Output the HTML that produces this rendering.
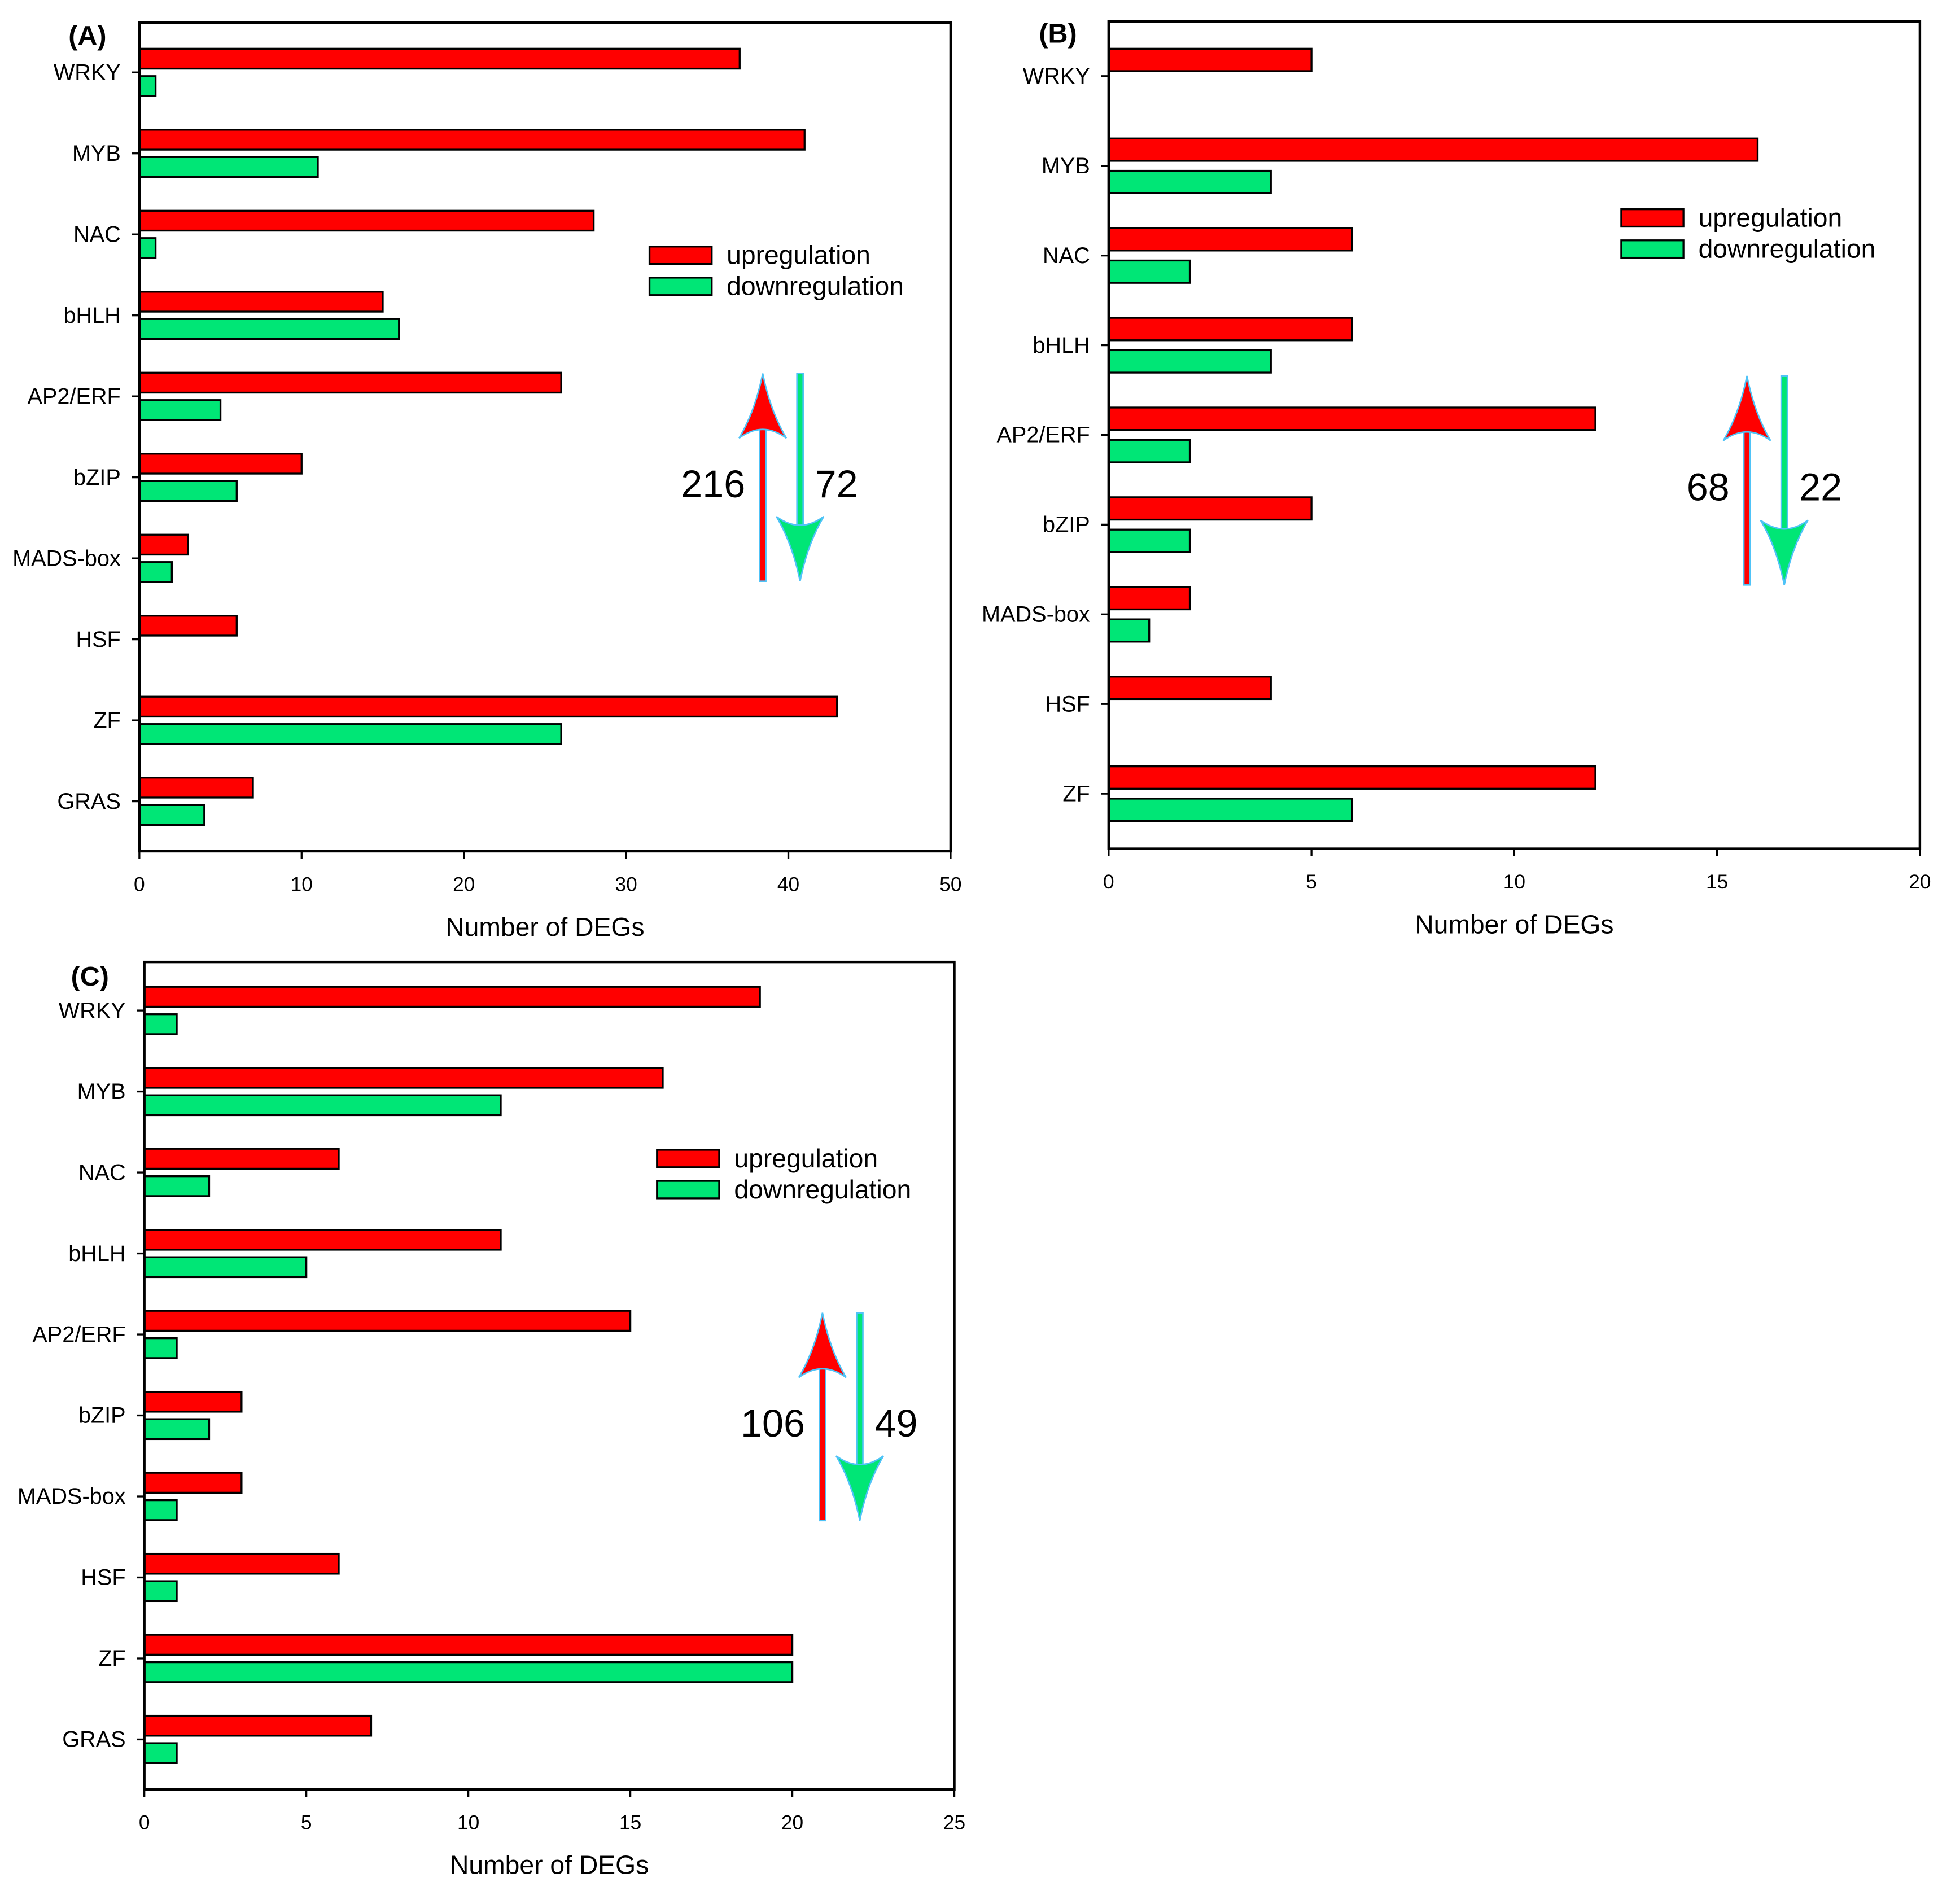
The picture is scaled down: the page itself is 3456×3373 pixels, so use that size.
<!DOCTYPE html>
<html><head><meta charset="utf-8"><style>
html,body{margin:0;padding:0;background:#fff;}
svg{display:block;font-family:"Liberation Sans",Arial,sans-serif;}
</style></head><body>
<svg id="fig" width="3456" height="3373" viewBox="0 0 1568 1530" xmlns="http://www.w3.org/2000/svg"></svg>
<script>
const catsAC = ["WRKY","MYB","NAC","bHLH","AP2/ERF","bZIP","MADS-box","HSF","ZF","GRAS"];
const catsB = ["WRKY","MYB","NAC","bHLH","AP2/ERF","bZIP","MADS-box","HSF","ZF"];
const upA = [37,41,28,15,26,10,3,6,43,7];
const downA = [1,11,1,16,5,6,2,0,26,4];
const upB = [5,16,6,6,12,5,2,4,12];
const downB = [0,4,2,4,2,2,1,0,6];
const upC = [19,16,6,11,15,3,3,6,20,7];
const downC = [1,11,2,5,1,2,1,1,20,1];
const ticksA = [0,10,20,30,40,50];
const ticksB = [0,5,10,15,20];
const ticksC = [0,5,10,15,20,25];
const totalsA = ["216","72"], totalsB = ["68","22"], totalsC = ["106","49"];

const NS="http://www.w3.org/2000/svg";
const svg=document.getElementById('fig');
function mk(tag,attrs,parent,text){const e=document.createElementNS(NS,tag);for(const k in attrs)e.setAttribute(k,attrs[k]);if(text!==undefined)e.textContent=text;(parent||svg).appendChild(e);return e;}

function panel(cfg){
  const g=mk('g',{});
  
  
  const {x0,x1,y0,y1,max,cats,up,down,ticks,first,step,off,bh}=cfg;
  const sx=v=>x0+(x1-x0)*v/max;
  const cy=i=>first+step*i;
  cats.forEach((c,i)=>{
    const y=cy(i);
    const t=mk('line',{x1:x0-6,x2:x0,y1:y,y2:y,stroke:'#000','stroke-width':1.5},g);
    
    
    const l=mk('text',{x:x0-15,y:y+6,'text-anchor':'end','font-size':18},g,c);
    
    
    if(up[i]>0){const r=mk('rect',{x:x0,y:y-off-bh/2,width:sx(up[i])-x0,height:bh,fill:'#ff0000',stroke:'#000','stroke-width':1.5},g);
      
      }
    if(down[i]>0){const r=mk('rect',{x:x0,y:y+off-bh/2,width:sx(down[i])-x0,height:bh,fill:'#00e676',stroke:'#000','stroke-width':1.5},g);
      
      }
  });
  const f=mk('rect',{x:x0,y:y0,width:x1-x0,height:y1-y0,fill:'none',stroke:'#000','stroke-width':2},g);
  
  
  ticks.forEach(v=>{
    const t=mk('line',{x1:sx(v),x2:sx(v),y1:y1,y2:y1+6,stroke:'#000','stroke-width':1.5},g);
    
    
    const l=mk('text',{x:sx(v),y:y1+32,'text-anchor':'middle','font-size':16},g,String(v));
    
    
  });
  const at=mk('text',{x:(x0+x1)/2,y:y1+68,'text-anchor':'middle','font-size':21},g,'Number of DEGs');
  
  
  const pl=mk('text',{x:cfg.lx,y:cfg.ly,'font-size':22,'font-weight':'bold'},g,'('+cfg.id+')');
  
  
  const lg=mk('g',{},g);
  
  
  [['upregulation','#ff0000',0],['downregulation','#00e676',25]].forEach(([n,col,dy])=>{
    const s=mk('rect',{x:cfg.legx,y:cfg.legy+dy,width:50,height:14,fill:col,stroke:'#000','stroke-width':1.5},lg);
    
    
    const t=mk('text',{x:cfg.legx+62,y:cfg.legy+dy+14,'font-size':21},lg,n);
    
    
  });
  const ax=cfg.ax, at0=cfg.atop, ab=cfg.abot;
  const ua=mk('g',{},g);
  
  
  mk('rect',{x:ax-2.5,y:at0+35,width:5,height:ab-at0-35,fill:'#ff0000',stroke:'#4fc3f7','stroke-width':1.2},ua);
  mk('path',{d:`M${ax} ${at0} Q${ax+6} ${at0+30} ${ax+19} ${at0+52} Q${ax} ${at0+38} ${ax-19} ${at0+52} Q${ax-6} ${at0+30} ${ax} ${at0}Z`,fill:'#ff0000',stroke:'#4fc3f7','stroke-width':1.2},ua);
  const gx=ax+30;
  const da=mk('g',{},g);
  
  
  mk('rect',{x:gx-2.5,y:at0,width:5,height:ab-at0-35,fill:'#00e676',stroke:'#4fc3f7','stroke-width':1.2},da);
  mk('path',{d:`M${gx} ${ab} Q${gx+6} ${ab-30} ${gx+19} ${ab-52} Q${gx} ${ab-38} ${gx-19} ${ab-52} Q${gx-6} ${ab-30} ${gx} ${ab}Z`,fill:'#00e676',stroke:'#4fc3f7','stroke-width':1.2},da);
  const ty=(at0+ab)/2+16;
  const t1=mk('text',{x:ax-14,y:ty,'text-anchor':'end','font-size':31},g,cfg.totals[0]);
  
  
  const t2=mk('text',{x:gx+12,y:ty,'font-size':31},g,cfg.totals[1]);
  
  
}
panel({id:'A',x0:112,x1:764,y0:18,y1:684,max:50,cats:catsAC,up:upA,down:downA,ticks:ticksA,first:58,step:65.1,off:11,bh:16,lx:55,ly:36,legx:522,legy:198,ax:613,atop:300,abot:467,totals:totalsA});
panel({id:'B',x0:891,x1:1543,y0:17,y1:682,max:20,cats:catsB,up:upB,down:downB,ticks:ticksB,first:61,step:72.1,off:13,bh:18,lx:835,ly:34,legx:1303,legy:168,ax:1404,atop:302,abot:470,totals:totalsB});
panel({id:'C',x0:116,x1:767,y0:773,y1:1438,max:25,cats:catsAC,up:upC,down:downC,ticks:ticksC,first:812,step:65.1,off:11,bh:16,lx:57,ly:792,legx:528,legy:924,ax:661,atop:1055,abot:1222,totals:totalsC});
</script>
</body></html>
